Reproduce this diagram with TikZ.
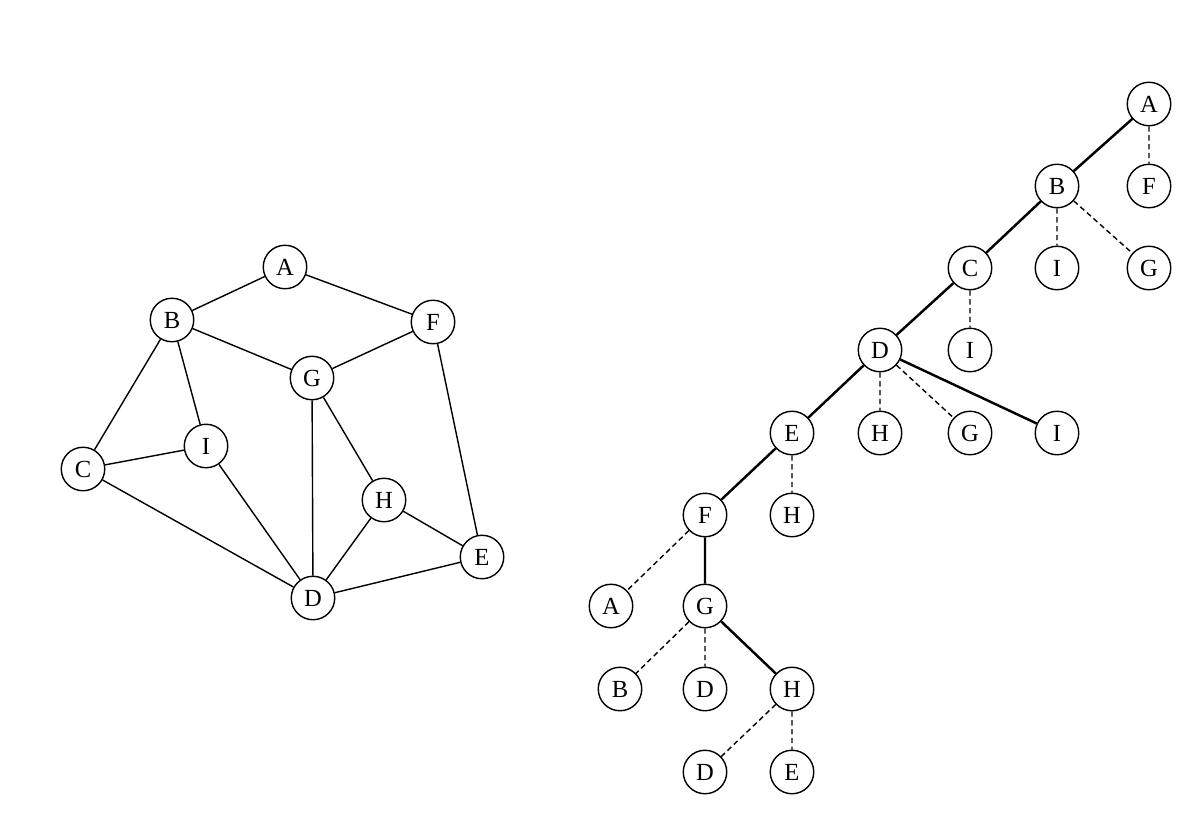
\documentclass[tikz,border=0pt]{standalone}
\usepackage{fontspec}
\setmainfont{Liberation Serif}
\tikzset{
    vtx/.style={circle,draw=black,line width=0.8pt,fill=white,minimum size=0.87cm,inner sep=0,font=\fontsize{14}{16}\selectfont},
    edge/.style={line width=0.8pt},
    treeedge/.style={line width=1.4pt},
    backedge/.style={line width=0.8pt,densely dashed}
}
\begin{document}
\begin{tikzpicture}[x=0.02cm,y=-0.02cm]
    \useasboundingbox (0,0) rectangle (1200,826);
    % graph
    \node[vtx] (A) at (285,267) {A};
    \node[vtx] (B) at (172,320) {B};
    \node[vtx] (F) at (433,322) {F};
    \node[vtx] (G) at (312,378) {G};
    \node[vtx] (I) at (206,446) {I};
    \node[vtx] (C) at (83,469) {C};
    \node[vtx] (H) at (384,500) {H};
    \node[vtx] (E) at (482,557) {E};
    \node[vtx] (D) at (313,598) {D};
    \draw[edge] (A) -- (B) (A) -- (F) (B) -- (G) (G) -- (F)
        (B) -- (C) (B) -- (I) (C) -- (I) (C) -- (D) (I) -- (D)
        (G) -- (D) (G) -- (H) (H) -- (D) (H) -- (E) (F) -- (E) (D) -- (E);

    % search tree
    \node[vtx] (tA) at (1149,104) {A};
    \node[vtx] (tB) at (1057,186) {B};
    \node[vtx] (tF1) at (1149,186) {F};
    \node[vtx] (tC) at (970,268) {C};
    \node[vtx] (tI1) at (1057,268) {I};
    \node[vtx] (tG1) at (1149,268) {G};
    \node[vtx] (tD) at (880,350) {D};
    \node[vtx] (tI2) at (970,350) {I};
    \node[vtx] (tE) at (792,433) {E};
    \node[vtx] (tH1) at (880,433) {H};
    \node[vtx] (tG2) at (970,433) {G};
    \node[vtx] (tI) at (1057,433) {I};
    \node[vtx] (tF) at (705,515) {F};
    \node[vtx] (tH2) at (792,515) {H};
    \node[vtx] (tA1) at (611,606) {A};
    \node[vtx] (tG) at (705,606) {G};
    \node[vtx] (tB1) at (620,689) {B};
    \node[vtx] (tD1) at (705,689) {D};
    \node[vtx] (tH) at (792,689) {H};
    \node[vtx] (tD2) at (705,772) {D};
    \node[vtx] (tE1) at (792,772) {E};
    \draw[treeedge] (tA) -- (tB) -- (tC) -- (tD) -- (tE) -- (tF) -- (tG) -- (tH);
    \draw[treeedge] (tD) -- (tI);
    \draw[backedge] (tA) -- (tF1) (tB) -- (tI1) (tB) -- (tG1) (tC) -- (tI2)
        (tD) -- (tH1) (tD) -- (tG2) (tE) -- (tH2) (tF) -- (tA1)
        (tG) -- (tB1) (tG) -- (tD1) (tH) -- (tD2) (tH) -- (tE1);
\end{tikzpicture}
\end{document}
